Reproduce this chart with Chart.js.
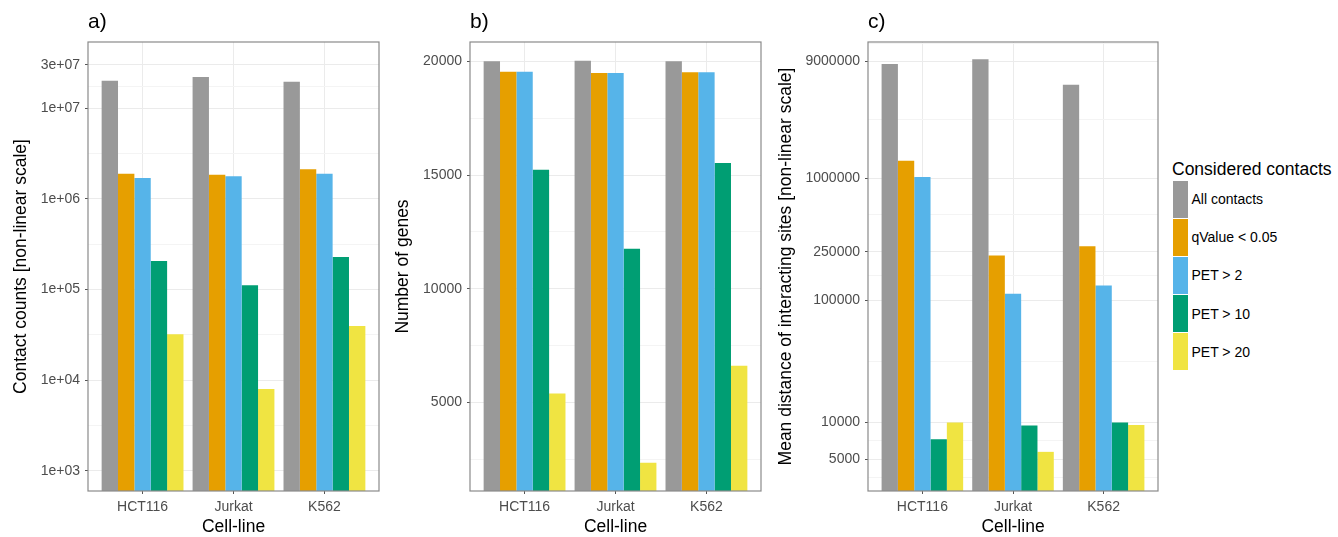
<!DOCTYPE html>
<html>
<head>
<meta charset="utf-8">
<title>Contacts per cell line</title>
<script src="https://cdn.jsdelivr.net/npm/chart.js@4.4.1/dist/chart.umd.min.js"></script>
<style>
  body { margin: 0; background: #fff; }
  #wrap { position: relative; width: 1338px; height: 537px; font-family: "Liberation Sans", Arial, sans-serif; }
  canvas { position: absolute; top: 0; }
  #legend { position: absolute; left: 1172px; top: 159px; color: #000; }
  #legend .ltitle { font-size: 17.5px; line-height: 21px; white-space: nowrap; }
  #legend .item { display: flex; align-items: center; height: 38.2px; font-size: 14px; white-space: nowrap; }
  #legend .key { width: 14.5px; height: 37.2px; margin-left: 1px; margin-right: 4px; }
</style>
</head>
<body>
<div id="wrap">
  <canvas id="panelA" width="388" height="537" style="left:0px"></canvas>
  <canvas id="panelB" width="386" height="537" style="left:388px"></canvas>
  <canvas id="panelC" width="390" height="537" style="left:774px"></canvas>
  <div id="legend"><div class="ltitle">Considered contacts</div><div id="litems"></div></div>
</div>
<script>
const cellLines = ["HCT116", "Jurkat", "K562"];
const seriesNames = ["All contacts", "qValue < 0.05", "PET > 2", "PET > 10", "PET > 20"];
const seriesColors = ["#999999", "#E69F00", "#56B4E9", "#009E73", "#F0E442"];

// a) contact counts
const countsAll = [2.0e7, 2.2e7, 1.95e7];
const countsQ = [1.89e6, 1.84e6, 2.11e6];
const countsPet2 = [1.69e6, 1.77e6, 1.89e6];
const countsPet10 = [2.05e5, 1.11e5, 2.27e5];
const countsPet20 = [3.2e4, 7950, 3.94e4];
const countTicks = [1e3, 1e4, 1e5, 1e6, 1e7, 3e7];
const countTickLabels = ["1e+03", "1e+04", "1e+05", "1e+06", "1e+07", "3e+07"];

// b) number of genes
const genesAll = [20000, 20030, 20000];
const genesQ = [19546, 19485, 19515];
const genesPet2 = [19546, 19485, 19515];
const genesPet10 = [15238, 11758, 15530];
const genesPet20 = [5396, 2357, 6617];
const geneTicks = [5000, 10000, 15000, 20000];
const geneTickLabels = ["5000", "10000", "15000", "20000"];

// c) mean distance of interacting sites
const distAll = [8.6e6, 9.4e6, 5.8e6];
const distQ = [1.39e6, 2.33e5, 2.77e5];
const distPet2 = [1.02e6, 1.13e5, 1.32e5];
const distPet10 = [7300, 9450, 10000];
const distPet20 = [10000, 5750, 9520];
const distTicks = [5000, 10000, 100000, 250000, 1000000, 9000000];
const distTickLabels = ["5000", "10000", "100000", "250000", "1000000", "9000000"];

Chart.defaults.font.family = '"Liberation Sans", Arial, sans-serif';
Chart.defaults.animation = false;

// ggplot style minor breaks: midpoints between majors (in transformed space)
function minorBreaks(majors, isLog) {
  const t = isLog ? majors.map(Math.log10) : majors.slice();
  const d = t[1] - t[0];
  const ext = [t[0] - d].concat(t, [t[t.length - 1] + d]);
  const out = [];
  for (let i = 0; i < ext.length - 1; i++) {
    const m = (ext[i] + ext[i + 1]) / 2;
    out.push(isLog ? Math.pow(10, m) : m);
  }
  return out;
}

const panelBorder = {
  id: "panelBorder",
  afterDatasetsDraw(chart) {
    const { ctx, chartArea: a } = chart;
    ctx.save();
    ctx.strokeStyle = "#8a8a8a";
    ctx.lineWidth = 1.2;
    ctx.strokeRect(a.left, a.top, a.right - a.left, a.bottom - a.top);
    ctx.restore();
  }
};

function drawPanel(id, p) {
  const datasets = p.series.map((vals, i) => ({
    label: seriesNames[i],
    data: vals.map((v, j) => ({ x: j, y: v })),
    backgroundColor: seriesColors[i],
    borderWidth: 0,
    categoryPercentage: 0.9,
    barPercentage: 1
  }));

  return new Chart(document.getElementById(id), {
    type: "bar",
    data: { datasets },
    plugins: [panelBorder],
    options: {
      responsive: false,
      layout: { padding: { left: 0, right: p.padRight, top: 0, bottom: 0 } },
      plugins: {
        legend: { display: false },
        tooltip: { enabled: false },
        title: {
          display: true, text: p.tag, align: "start", fullSize: false,
          color: "#000", font: { size: 21, weight: "normal" },
          padding: { top: 10, bottom: 6.8 }
        }
      },
      scales: {
        x: {
          type: "linear", min: -0.6, max: 2.6, offset: false,
          afterBuildTicks: s => { s.ticks = cellLines.map((c, i) => ({ value: i })); },
          afterFit: s => { s.height = 46; },
          ticks: {
            callback: v => cellLines[v], color: "#4D4D4D", font: { size: 14 },
            padding: 5, maxRotation: 0, autoSkip: false
          },
          grid: { color: "#EBEBEB", tickColor: "#555", tickLength: 3, offset: false },
          border: { display: false },
          title: {
            display: true, text: "Cell-line", color: "#000",
            font: { size: 17.5, lineHeight: 1.1 }, padding: { top: 0, bottom: 0 }
          }
        },
        y: {
          type: p.log ? "logarithmic" : "linear",
          min: p.min, max: p.max, beginAtZero: false,
          afterBuildTicks: s => {
            const majors = p.ticks.map((v, i) => ({ value: v, text: p.labels[i] }));
            const minors = minorBreaks(p.ticks, p.log).map(v => ({ value: v, minor: true }));
            s.ticks = majors.concat(minors)
              .filter(t => t.value >= s.min && t.value <= s.max)
              .sort((a, b) => a.value - b.value);
          },
          afterFit: s => { s.width = p.axisWidth; },
          ticks: {
            callback: (v, i, ticks) => ticks[i].minor ? "" : ticks[i].text,
            color: "#4D4D4D", font: { size: 14 }, padding: 5, autoSkip: false
          },
          grid: {
            color: c => c.tick && c.tick.minor ? "#F4F4F4" : "#EBEBEB",
            tickColor: c => c.tick && c.tick.minor ? "rgba(0,0,0,0)" : "#555",
            tickLength: 3
          },
          border: { display: false },
          title: {
            display: true, text: p.yTitle, color: "#000",
            font: { size: 17.5 }, padding: { top: p.titlePad, bottom: 0 }
          }
        }
      }
    }
  });
}

drawPanel("panelA", {
  tag: "a)", log: true, min: 597, max: 5.35e7,
  series: [countsAll, countsQ, countsPet2, countsPet10, countsPet20],
  ticks: countTicks, labels: countTickLabels,
  yTitle: "Contact counts [non-linear scale]",
  axisWidth: 88, padRight: 9, titlePad: 11
});

drawPanel("panelB", {
  tag: "b)", log: false, min: 1110, max: 20850,
  series: [genesAll, genesQ, genesPet2, genesPet10, genesPet20],
  ticks: geneTicks, labels: geneTickLabels,
  yTitle: "Number of genes",
  axisWidth: 82, padRight: 13, titlePad: 5
});

drawPanel("panelC", {
  tag: "c)", log: true, min: 2750, max: 1.3e7,
  series: [distAll, distQ, distPet2, distPet10, distPet20],
  ticks: distTicks, labels: distTickLabels,
  yTitle: "Mean distance of interacting sites [non-linear scale]",
  axisWidth: 94, padRight: 6, titlePad: 1.5
});

// legend
const items = document.getElementById("litems");
seriesNames.forEach((name, i) => {
  const row = document.createElement("div");
  row.className = "item";
  const key = document.createElement("span");
  key.className = "key";
  key.style.background = seriesColors[i];
  const txt = document.createElement("span");
  txt.textContent = name;
  row.appendChild(key);
  row.appendChild(txt);
  items.appendChild(row);
});
</script>
</body>
</html>
